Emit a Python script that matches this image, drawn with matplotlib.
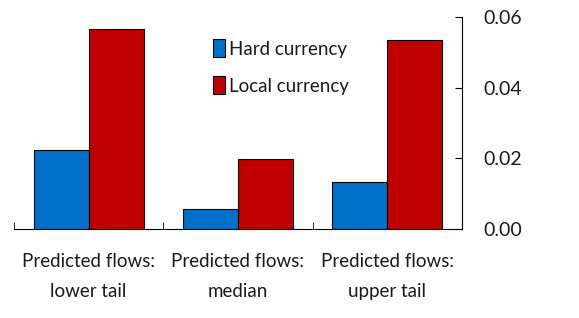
import matplotlib.pyplot as plt
import numpy as np

groups = ['Predicted flows:\nlower tail', 'Predicted flows:\nmedian', 'Predicted flows:\nupper tail']
hard = [0.0223, 0.0057, 0.0133]
local = [0.0566, 0.0198, 0.0535]
yticks = [0.00, 0.02, 0.04, 0.06]

plt.rcParams['font.family'] = ['Lato', 'DejaVu Sans']
plt.rcParams['font.size'] = 13
plt.rcParams['text.color'] = '#1a1a1a'

fig = plt.figure(figsize=(5.79, 3.18), dpi=100)
ax = fig.add_axes([0.024, 0.280, 0.774, 0.6665])

x = np.arange(len(groups))
w = 0.368
ax.bar(x - w / 2, hard, w, color='#0070C8', edgecolor='black', linewidth=0.8, label='Hard currency')
ax.bar(x + w / 2, local, w, color='#C00000', edgecolor='black', linewidth=0.8, label='Local currency')

ax.set_xlim(-0.5, 2.5)
ax.set_ylim(0, 0.06)
ax.spines['top'].set_visible(False)
ax.spines['left'].set_visible(False)
ax.yaxis.tick_right()
ax.set_yticks(yticks)
ax.set_yticklabels(['%.2f' % v for v in yticks])
ax.tick_params(axis='y', direction='in', length=5, pad=15, labelsize=14, labelcolor='#1a1a1a')

# category labels, group dividers as minor ticks
ax.set_xticks(x)
ax.set_xticklabels(groups, linespacing=1.95)
ax.tick_params(axis='x', which='major', length=0, pad=17, labelsize=13.5, labelcolor='#1a1a1a')
ax.set_xticks([-0.5, 0.5, 1.5, 2.5], minor=True)
ax.tick_params(axis='x', which='minor', direction='in', length=5)

ax.legend(loc='upper left', bbox_to_anchor=(0.428, 0.93), frameon=False,
          handlelength=0.65, handleheight=1.1, handletextpad=0.2, labelspacing=1.0,
          fontsize=13.5, borderaxespad=0)

fig.savefig('out.png', dpi=100)
